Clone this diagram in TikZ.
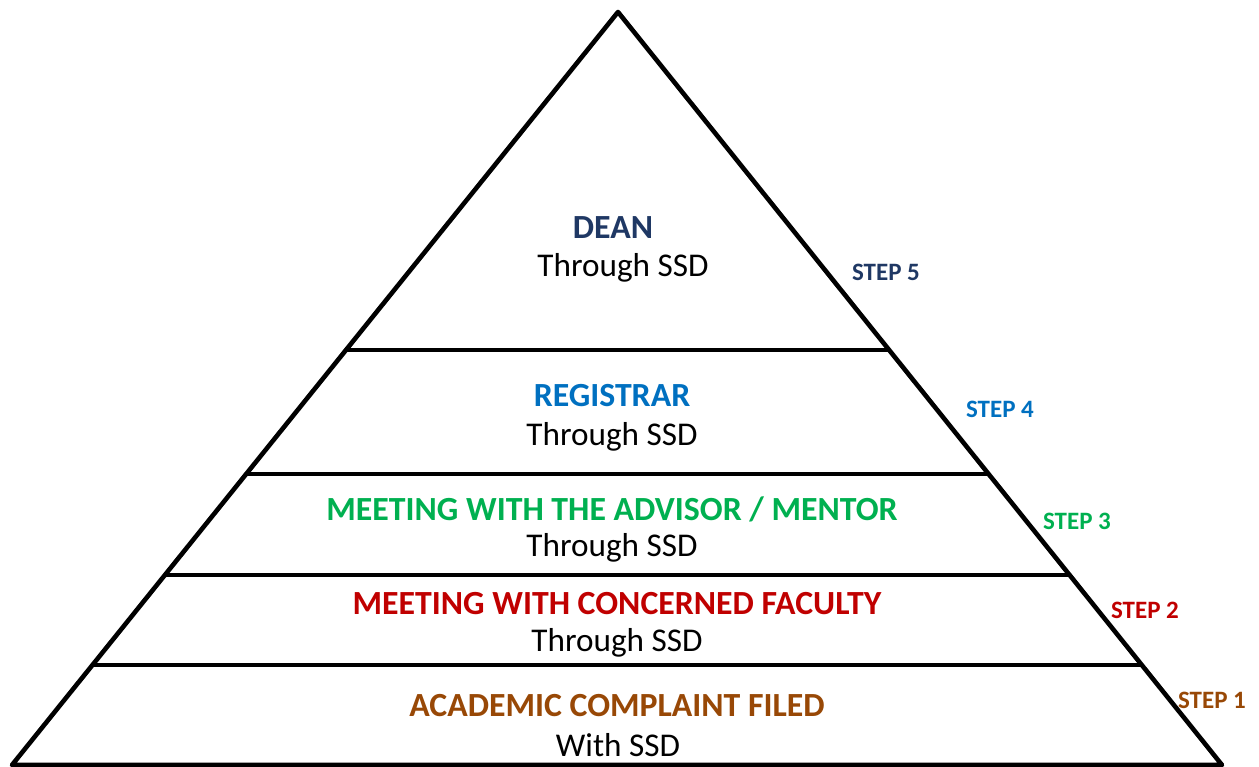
\documentclass[tikz,border=0pt]{standalone}
\usepackage{fontspec}
\setmainfont{Carlito}
\definecolor{cdean}{HTML}{1F3864}
\definecolor{creg}{HTML}{0070C0}
\definecolor{cadv}{HTML}{00B050}
\definecolor{cfac}{HTML}{C00000}
\definecolor{cfile}{HTML}{984806}
\begin{document}
\begin{tikzpicture}[x=1pt,y=-1pt,
  edge/.style={line width=4.6pt,line join=round},
  rung/.style={line width=4.2pt},
  title/.style={font=\fontsize{33.8}{36}\selectfont\bfseries,inner sep=0pt},
  sub/.style={font=\fontsize{33.2}{36}\selectfont,inner sep=0pt},
  steplbl/.style={font=\fontsize{25}{27}\selectfont\bfseries,inner sep=0pt}]
\useasboundingbox (0,0) rectangle (1259,767);
\coordinate (apex) at (618,12);
\coordinate (bl) at (12,765);
\coordinate (br) at (1222,765);
\draw[edge] (bl) -- (apex) -- (br) -- cycle;
\foreach \yy/\nm in {350/a,474/b,575/c,665/d}{
  \path (bl) -- (apex) coordinate[pos={(765-\yy)/753}] (L\nm);
  \path (br) -- (apex) coordinate[pos={(765-\yy)/753}] (R\nm);
  \draw[rung] (L\nm) -- (R\nm);
}
\node[title,text=cdean] (dean) at (613,228) {DEAN};
\node[sub] (dean2) at (623,268) {Through SSD};
\node[title,text=creg] (reg) at (612,396) {REGISTRAR};
\node[sub] (reg2) at (612,437) {Through SSD};
\node[title,text=cadv] (adv) at (612,509) {MEETING WITH THE ADVISOR / MENTOR};
\node[sub] (adv2) at (612,548) {Through SSD};
\node[title,text=cfac] (fac) at (617,604) {MEETING WITH CONCERNED FACULTY};
\node[sub] (fac2) at (617,643) {Through SSD};
\node[title,text=cfile] (file) at (617,706) {ACADEMIC COMPLAINT FILED};
\node[sub] (file2) at (618,745) {With SSD};
\node[steplbl,text=cdean] (s5) at (886,272) {STEP 5};
\node[steplbl,text=creg] (s4) at (1000,409) {STEP 4};
\node[steplbl,text=cadv] (s3) at (1077,521) {STEP 3};
\node[steplbl,text=cfac] (s2) at (1145,610) {STEP 2};
\node[steplbl,text=cfile] (s1) at (1212,700) {STEP 1};
\end{tikzpicture}
\end{document}
